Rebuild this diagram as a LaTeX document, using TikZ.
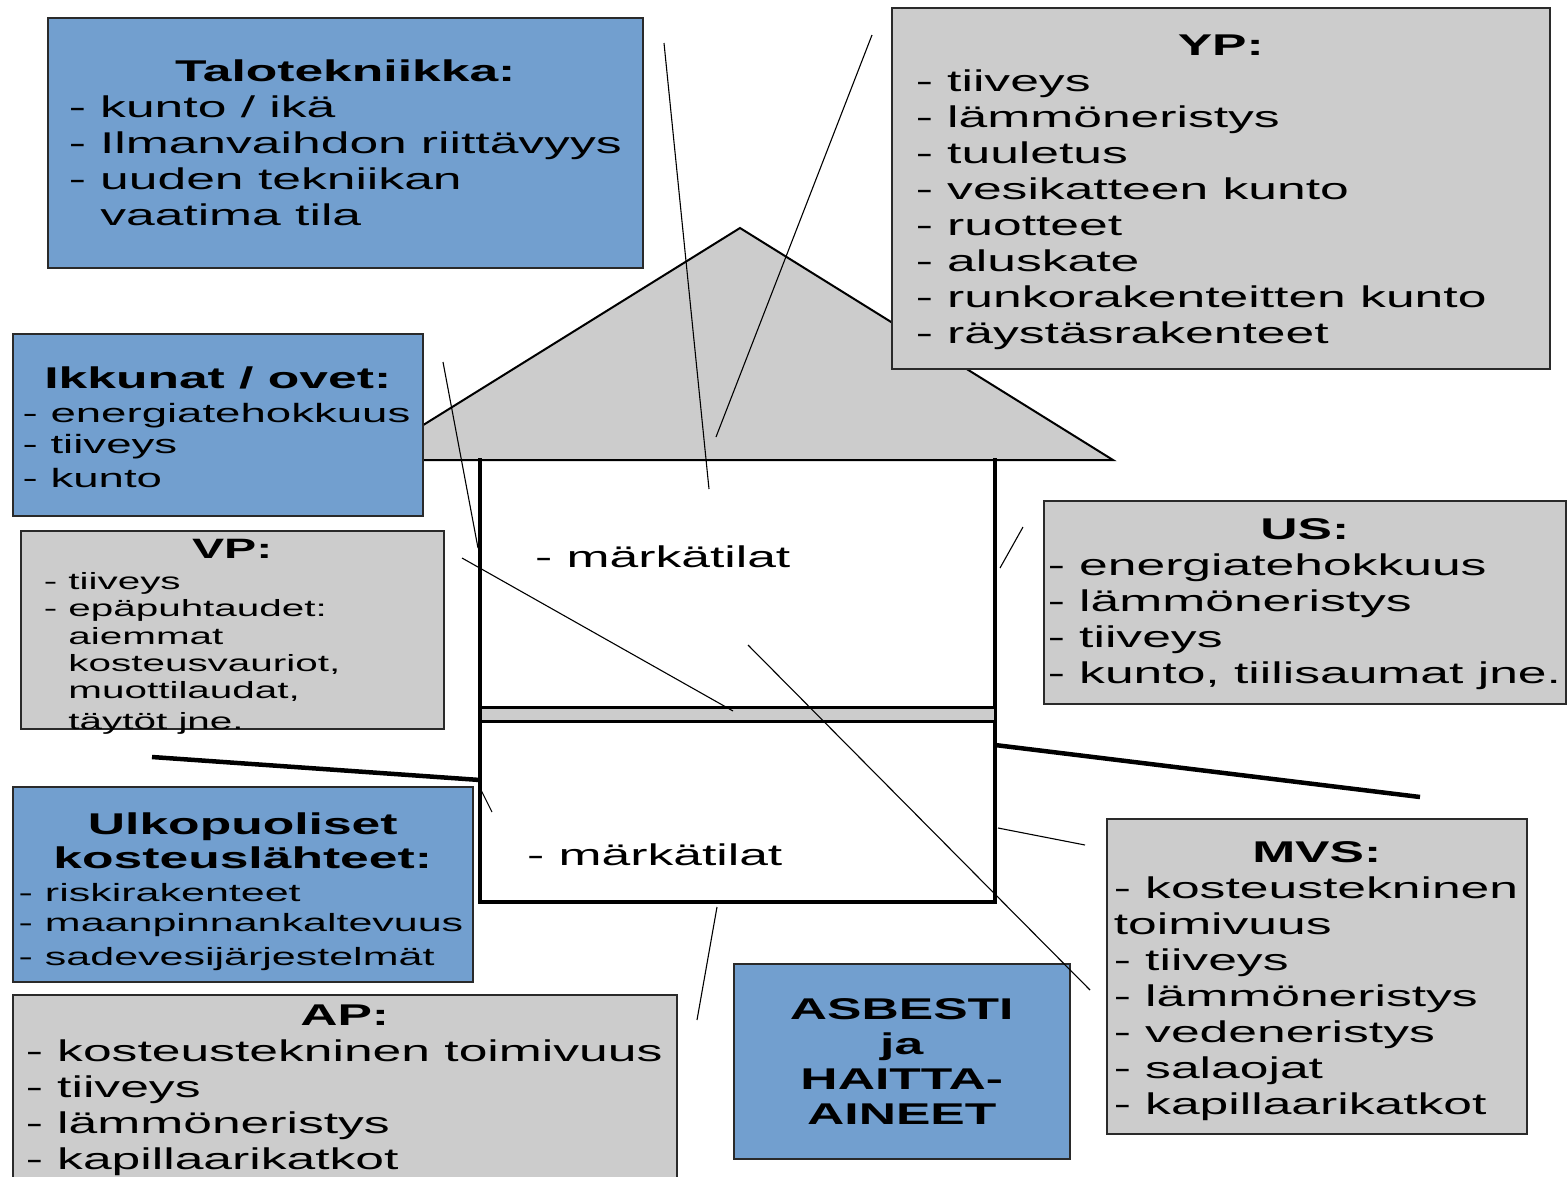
\documentclass[tikz,border=0pt]{standalone}
\usepackage{fontspec}
\setmainfont{Liberation Sans}[FakeStretch=1.72]
\usepackage{tikz}
\definecolor{hsblue}{HTML}{729FCF}
\definecolor{hsgrey}{HTML}{CCCCCC}
\definecolor{hsline}{HTML}{2A2A2A}
\newcommand{\boxtitle}[1]{\noindent\hbox to\hsize{\hfil\bfseries#1\hfil}}
\hyphenpenalty=10000
\exhyphenpenalty=10000
\tikzset{
  info/.style={rectangle,draw=hsline,line width=1.5pt,anchor=north west,
               inner ysep=0pt,align=flush left,text=black},
  bluebox/.style={info,fill=hsblue},
  greybox/.style={info,fill=hsgrey},
  wall/.style={line width=3.6pt,line cap=rect},
  roof/.style={draw=black,line width=2pt,fill=hsgrey,line join=miter},
  slab/.style={draw=black,line width=3pt,fill=hsgrey},
  pointer/.style={line width=1.1pt,draw=black},
  ground/.style={line width=4.5pt,draw=black},
}

\begin{document}
\begin{tikzpicture}[x=1pt,y=-1pt,font=\fontsize{30}{36}\selectfont,
  roomlbl/.style={anchor=west,inner sep=0pt}]
  \useasboundingbox (0,0) rectangle (1567,1176);
  \fill[white] (0,0) rectangle (1567,1176);

  \draw[roof] (367,460) -- (740,228) -- (1113,460) -- cycle;
  \draw[wall] (480,460) -- (480,902) -- (995,902) -- (995,460);
  \draw[slab] (480,707) rectangle (995,721);
  \coordinate (gl1) at (152,757); \coordinate (gl2) at (480,780);
  \coordinate (gr1) at (995,745); \coordinate (gr2) at (1420,797);
  \draw[ground] (gl1) -- (gl2);
  \draw[ground] (gr1) -- (gr2);
  \node[roomlbl] (upper) at (535,557) {- märkätilat};
  \node[roomlbl] (lower) at (527,855) {- märkätilat};

  \node[bluebox,minimum width=595pt,text height=64pt,text depth=186pt,text width=553pt,inner xsep=21pt] (tt) at (47,17)
    {\boxtitle{Talotekniikka:}\\- kunto / ikä\\- Ilmanvaihdon~riittävyys\\- uuden~tekniikan\\\phantom{- }vaatima~tila};
  \node[greybox,minimum width=658pt,text height=48pt,text depth=313pt,text width=610pt,inner xsep=24pt] (yp) at (891,7)
    {\boxtitle{YP:}\\- tiiveys\\- lämmöneristys\\- tuuletus\\- vesikatteen~kunto\\- ruotteet\\- aluskate\\- runkorakenteitten~kunto\\- räystäsrakenteet};
  \node[bluebox,minimum width=410pt,text height=55pt,text depth=127pt,text width=390pt,inner xsep=10pt,
    font=\fontsize{30}{34}\selectfont] (ik) at (12,333)
    {\boxtitle{Ikkunat / ovet:}\\\fontsize{26.5}{34}\selectfont- energiatehokkuus\\\fontsize{26.5}{31}\selectfont- tiiveys\\- kunto};
  \node[greybox,minimum width=423pt,text height=28pt,text depth=170pt,text width=377pt,inner xsep=23pt,
    font=\fontsize{28}{31}\selectfont] (vp) at (20,530)
    {\boxtitle{VP:}\\\fontsize{23.5}{31}\selectfont- tiiveys\\\fontsize{23.5}{27.2}\selectfont- epäpuhtaudet:\\\phantom{- }aiemmat\\\phantom{- }kosteusvauriot,\\\phantom{- }muottilaudat,\\\phantom{- }täytöt~jne.};
  \node[greybox,minimum width=522pt,text height=39pt,text depth=164pt,text width=514pt,inner xsep=4pt] (us) at (1043,500)
    {\boxtitle{US:}\\- energiatehokkuus\\- lämmöneristys\\- tiiveys\\- kunto,~tiilisaumat~jne.};
  \node[bluebox,minimum width=460pt,text height=48pt,text depth=147pt,text width=448pt,inner xsep=6pt,
    font=\fontsize{30}{34}\selectfont] (ul) at (12,786)
    {\boxtitle{Ulkopuoliset}\\\boxtitle{kosteuslähteet:}\\\fontsize{25}{33}\selectfont- riskirakenteet\\\fontsize{25}{30}\selectfont- maanpinnankaltevuus\\- sadevesijärjestelmät};
  \node[greybox,minimum width=664pt,text height=31pt,text depth=165pt,text width=638pt,inner xsep=13pt] (ap) at (12,994)
    {\boxtitle{AP:}\\- kosteustekninen~toimivuus\\- tiiveys\\- lämmöneristys\\- kapillaarikatkot};
  \node[bluebox,minimum width=336pt,text height=56pt,text depth=139pt,text width=316pt,inner xsep=10pt,align=center,
    font=\fontsize{30}{35}\selectfont\bfseries] (as) at (733,963)
    {ASBESTI\\ja\\HAITTA-\\AINEET};
  \node[greybox,minimum width=420pt,text height=44pt,text depth=271pt,text width=406pt,inner xsep=7pt] (mv) at (1106,818)
    {\boxtitle{MVS:}\\- kosteustekninen\\toimivuus\\- tiiveys\\- lämmöneristys\\- vedeneristys\\- salaojat\\- kapillaarikatkot};

  \coordinate (ttA) at (664,43);   \coordinate (ttB) at (709,489);
  \coordinate (ypA) at (872,35);   \coordinate (ypB) at (716,437);
  \coordinate (ikA) at (443,362);  \coordinate (ikB) at (478,548);
  \coordinate (vpA) at (462,558);  \coordinate (vpB) at (733,711);
  \coordinate (usA) at (1023,527); \coordinate (usB) at (1000,568);
  \coordinate (mvA) at (748,645);  \coordinate (mvB) at (1090,990);
  \coordinate (mvC) at (998,828);  \coordinate (mvD) at (1085,845);
  \coordinate (apA) at (717,907);  \coordinate (apB) at (697,1020);
  \coordinate (ulA) at (481,790);  \coordinate (ulB) at (492,812);
  \draw[pointer] (ttA) -- (ttB);
  \draw[pointer] (ypA) -- (ypB);
  \draw[pointer] (ikA) -- (ikB);
  \draw[pointer] (vpA) -- (vpB);
  \draw[pointer] (usA) -- (usB);
  \draw[pointer] (mvA) -- (mvB);
  \draw[pointer] (mvC) -- (mvD);
  \draw[pointer] (apA) -- (apB);
  \draw[pointer] (ulA) -- (ulB);
\end{tikzpicture}
\end{document}
